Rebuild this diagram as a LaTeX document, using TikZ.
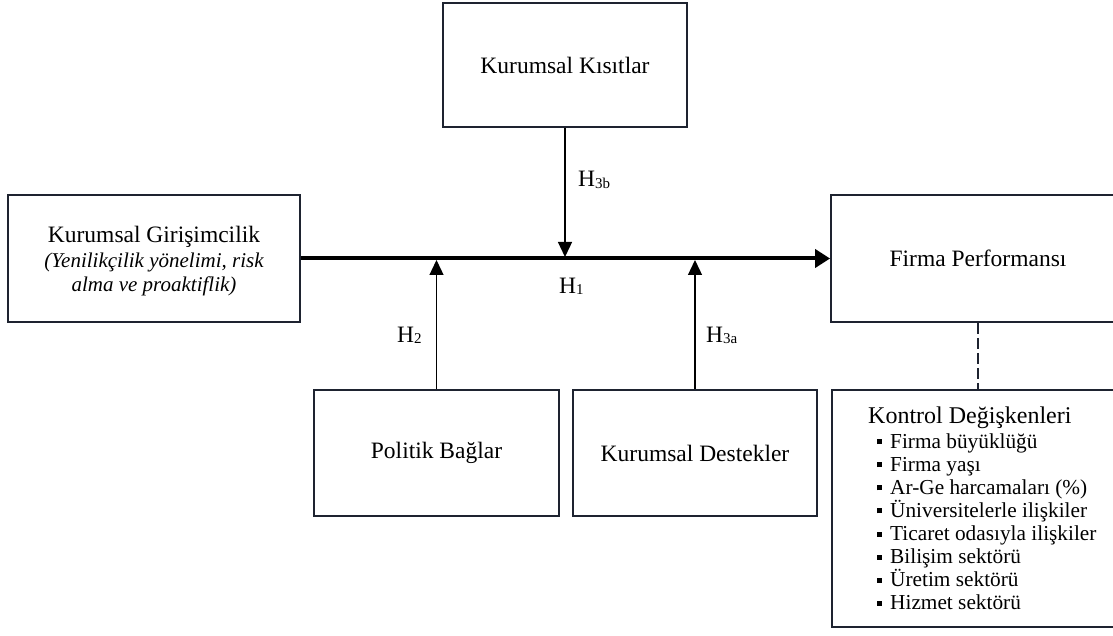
\documentclass[tikz,border=0pt]{standalone}
\usepackage{fontspec}
\setmainfont{Liberation Serif}
\usetikzlibrary{arrows.meta}
\definecolor{boxline}{RGB}{30,35,48}
\tikzset{
  block/.style={draw=boxline, line width=1.8pt, rectangle, inner sep=0pt,
    font=\fontsize{23.5}{24.5}\selectfont},
  mainlink/.style={line width=4pt, -{Triangle[length=15pt,width=18pt]}},
  modlink/.style={line width=1.3pt, shorten >=1.5pt, -{Triangle[length=15pt,width=14pt]}},
  ctrllink/.style={line width=1.3pt, draw=boxline, dash pattern=on 11pt off 4pt},
  hyp/.style={anchor=base west, inner sep=0pt, font=\fontsize{23.5}{24}\selectfont},
  ctrltitle/.style={anchor=base west, inner sep=0pt, font=\fontsize{24}{24}\selectfont},
  ctrlitem/.style={anchor=base west, inner sep=0pt, font=\fontsize{21.3}{23}\selectfont},
}
\newcommand{\hsub}[1]{\raisebox{-1.5pt}{\fontsize{15}{15}\selectfont #1}}
\newcommand{\ctrlbullet}{\rule[4pt]{5pt}{5pt}\hspace{8pt}}
\begin{document}
\begin{tikzpicture}[x=1pt,y=-1pt]
\useasboundingbox (0,0) rectangle (1113,636);
\begin{scope}
\clip (0,0) rectangle (1113,636);
% blocks
\node[block, minimum width=244pt, minimum height=124pt] (kisit) at (565,65) {Kurumsal Kısıtlar};
\node[block, minimum width=292pt, minimum height=127pt] (giris) at (154,258.5) {};
\node[align=center, inner sep=0pt, font=\fontsize{23.5}{24.5}\selectfont] (giristext) at (154,261.5)
  {Kurumsal Girişimcilik\\
   {\fontsize{21}{24.5}\selectfont\itshape (Yenilikçilik yönelimi, risk}\\
   {\fontsize{21}{24.5}\selectfont\itshape alma ve proaktiflik)}};
\node[block, minimum width=294pt, minimum height=127pt] (firma) at (978,258.5) {Firma Performansı};
\node[block, minimum width=245pt, minimum height=126pt] (politik) at (436.5,453) {Politik Bağlar};
\node[block, minimum width=244pt, minimum height=126pt] (destek) at (695,453) {Kurumsal Destekler};
\node[block, minimum width=292pt, minimum height=237pt] (kontrol) at (978,508.5) {};
% control variables list
\node[ctrltitle] (ktitle) at (868,423) {Kontrol Değişkenleri};
\foreach \txt [count=\i] in {Firma büyüklüğü, Firma yaşı, Ar-Ge harcamaları (\%),
    Üniversitelerle ilişkiler, Ticaret odasıyla ilişkiler, Bilişim sektörü,
    Üretim sektörü, Hizmet sektörü}
  \node[ctrlitem] (kitem\i) at (877,{448+23.14*(\i-1)}) {\ctrlbullet\txt};
% connectors
\draw[mainlink] (giris.east) -- (firma.west);
\draw[modlink] (kisit.south) -- (kisit.south |- giris.east);
\draw[modlink] (politik.north) -- (politik.north |- giris.east);
\draw[modlink] (destek.north) -- (destek.north |- giris.east);
\draw[ctrllink] (firma.south) -- (kontrol.north);
% hypothesis labels
\node[hyp] (h3b) at (578,187) {H\hsub{3b}};
\node[hyp] (h1) at (559,293) {H\hsub{1}};
\node[hyp] (h2) at (397,342) {H\hsub{2}};
\node[hyp] (h3a) at (706,342) {H\hsub{3a}};
\end{scope}
\end{tikzpicture}
\end{document}
